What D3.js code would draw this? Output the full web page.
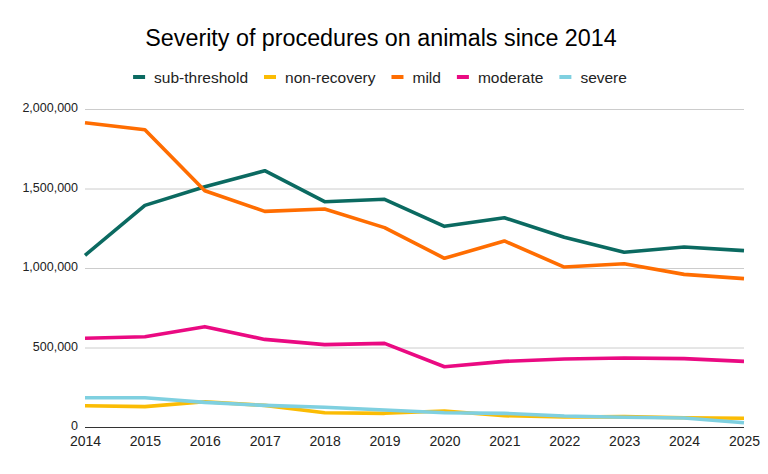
<!DOCTYPE html>
<html>
<head>
  <meta charset="utf-8">
  <title>Severity of procedures</title>
  <script src="https://cdn.jsdelivr.net/npm/d3@7"></script>
  <style>
    body { margin: 0; background: #fff; }
    text { font-family: "Liberation Sans", Arial, sans-serif; }
  </style>
</head>
<body>
<div id="chart"></div>
<script>
var years = [2014, 2015, 2016, 2017, 2018, 2019, 2020, 2021, 2022, 2023, 2024, 2025];
var subThreshold = [1080000, 1394000, 1511000, 1612000, 1417000, 1432000, 1262000, 1316000, 1193000, 1099000, 1132000, 1109000];
var nonRecovery  = [134000, 128000, 159000, 136000, 90000, 86000, 101000, 71000, 63000, 65000, 58000, 55000];
var mild         = [1914000, 1870000, 1486000, 1356000, 1371000, 1254000, 1061000, 1170000, 1006000, 1027000, 960000, 933000];
var moderate     = [558000, 568000, 631000, 551000, 518000, 526000, 379000, 413000, 428000, 434000, 430000, 413000];
var severe       = [184000, 184000, 155000, 136000, 124000, 107000, 90000, 86000, 69000, 61000, 57000, 27000];
var seriesNames  = ['sub-threshold', 'non-recovery', 'mild', 'moderate', 'severe'];
var yTicks = [0, 500000, 1000000, 1500000, 2000000];

var colors = ['#0b6a61', '#fbbc04', '#ff6d01', '#ea0a82', '#7fd0e0'];
var series = [subThreshold, nonRecovery, mild, moderate, severe];

var w = 768, h = 474;
var svg = d3.select('#chart').append('svg')
  .attr('width', w)
  .attr('height', h);

var x = d3.scaleLinear().domain([2014, 2025]).range([85, 744]);
var y = d3.scaleLinear().domain([0, 2000000]).range([427, 109]);

// title
svg.append('text')
  .attr('x', 381)
  .attr('y', 46)
  .attr('text-anchor', 'middle')
  .attr('font-size', '23.3px')
  .attr('fill', '#000')
  .text('Severity of procedures on animals since 2014');

// grid + y labels
var yAxis = d3.axisLeft(y)
  .tickValues(yTicks)
  .tickSize(-(744 - 85))
  .tickPadding(7)
  .tickFormat(d3.format(','));
var gy = svg.append('g')
  .attr('transform', 'translate(85,0)')
  .call(yAxis);
gy.select('.domain').remove();
gy.selectAll('.tick line')
  .attr('stroke', function(d){ return d === 0 ? '#333' : '#cccccc'; })
  .attr('stroke-width', 1);
gy.selectAll('.tick text')
  .attr('font-family', '"Liberation Sans", Arial, sans-serif')
  .attr('font-size', '12.5px')
  .attr('fill', '#222')
  .attr('y', -1.5);

// x labels
var xAxis = d3.axisBottom(x)
  .tickValues(years)
  .tickSize(0)
  .tickPadding(9.5)
  .tickFormat(d3.format('d'));
var gx = svg.append('g')
  .attr('transform', 'translate(0,427)')
  .call(xAxis);
gx.select('.domain').remove();
gx.selectAll('.tick text')
  .attr('font-family', '"Liberation Sans", Arial, sans-serif')
  .attr('font-size', '14px')
  .attr('fill', '#222');

// lines
var line = d3.line()
  .x(function(d, i){ return x(years[i]); })
  .y(function(d){ return y(d); });

svg.selectAll('path.series')
  .data(series)
  .enter()
  .append('path')
  .attr('class', 'series')
  .attr('d', line)
  .attr('fill', 'none')
  .attr('stroke', function(d, i){ return colors[i]; })
  .attr('stroke-width', 3.6)
  .attr('stroke-linejoin', 'round');

// legend
var legend = svg.append('g');
var items = legend.selectAll('g')
  .data(seriesNames)
  .enter()
  .append('g');
items.append('rect')
  .attr('width', 12)
  .attr('height', 4)
  .attr('y', -2)
  .attr('fill', function(d, i){ return colors[i]; });
items.append('text')
  .attr('x', 21)
  .attr('y', 5.5)
  .attr('font-size', '15.5px')
  .attr('fill', '#222')
  .text(function(d){ return d; });
var offs = 0;
items.each(function(){
  var g = d3.select(this);
  var tw = g.select('text').node().getComputedTextLength();
  g.attr('transform', 'translate(' + offs + ',0)');
  offs += 21 + tw + 16;
});
var total = offs - 16;
legend.attr('transform', 'translate(' + (380 - total / 2) + ',77)');
</script>
</body>
</html>
